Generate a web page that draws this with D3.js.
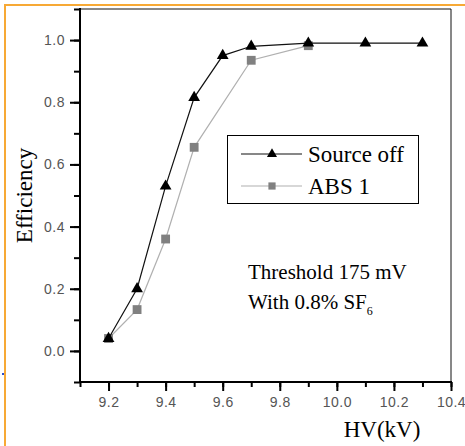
<!DOCTYPE html>
<html>
<head>
<meta charset="utf-8">
<script src="https://cdn.jsdelivr.net/npm/d3@7"></script>
<style>
  body { margin: 0; background: #fff; }
  svg { display: block; }
</style>
</head>
<body>
<div id="graph"></div>
<script>
// data
const hvSourceOff = [9.2, 9.3, 9.4, 9.5, 9.6, 9.7, 9.9, 10.1, 10.3];
const effSourceOff = [0.04, 0.2, 0.53, 0.815, 0.95, 0.98, 0.99, 0.99, 0.99];
const hvAbs1 = [9.2, 9.3, 9.4, 9.5, 9.7, 9.9];
const effAbs1 = [0.04, 0.133, 0.36, 0.655, 0.935, 0.982];
const xTicks = [9.2, 9.4, 9.6, 9.8, 10.0, 10.2, 10.4];
const yTicks = [0.0, 0.2, 0.4, 0.6, 0.8, 1.0];

const width = 465, height = 446;
const margin = { top: 9, left: 80, bottom: 64, right: 14 };
const serif = "'Liberation Serif', 'Times New Roman', serif";
const sans = "'Liberation Sans', Arial, sans-serif";

const svg = d3.select('#graph').append('svg')
  .attr('width', width)
  .attr('height', height);

// orange page border
svg.append('path')
  .attr('d', 'M5,' + height + 'V5H' + width)
  .attr('fill', 'none')
  .attr('stroke', '#f7a935')
  .attr('stroke-width', 2);
svg.append('rect')
  .attr('x', 2).attr('y', 373).attr('width', 2).attr('height', 2)
  .attr('fill', '#2a50d0');

const x = d3.scaleLinear().domain([9.1, 10.4]).range([margin.left, width - margin.right]);
const y = d3.scaleLinear().domain([-0.1, 1.1]).range([height - margin.bottom, margin.top]);

// frame top/right
svg.append('path')
  .attr('d', 'M' + x(9.1) + ',' + y(1.1) + 'H' + x(10.4) + 'V' + y(-0.1))
  .attr('fill', 'none')
  .attr('stroke', '#111')
  .attr('stroke-width', 1);

const minorX = d3.range(9.1, 10.41, 0.1).map(function(d) { return +d.toFixed(1); });
const minorY = d3.range(-0.1, 1.11, 0.1).map(function(d) { return +d.toFixed(1); });

const xAxis = svg.append('g')
  .attr('transform', 'translate(0,' + y(-0.1) + ')');
xAxis.append('g')
  .call(d3.axisBottom(x).tickValues(minorX).tickSize(5).tickFormat(''))
  .call(function(g) { g.select('.domain').remove(); });
xAxis.append('g')
  .call(d3.axisBottom(x).tickValues(xTicks).tickSize(9).tickPadding(6).tickFormat(d3.format('.1f')))
  .call(function(g) { g.select('.domain').remove(); });
xAxis.selectAll('.tick line').attr('stroke', '#000').attr('stroke-width', 2);
xAxis.append('line')
  .attr('x1', x(9.1) - 1).attr('x2', x(10.4) + 1)
  .attr('stroke', '#000').attr('stroke-width', 2);

const yAxis = svg.append('g')
  .attr('transform', 'translate(' + x(9.1) + ',0)');
yAxis.append('g')
  .call(d3.axisLeft(y).tickValues(minorY).tickSize(6).tickFormat(''))
  .call(function(g) { g.select('.domain').remove(); });
yAxis.append('g')
  .call(d3.axisLeft(y).tickValues(yTicks).tickSize(10).tickPadding(5).tickFormat(d3.format('.1f')))
  .call(function(g) { g.select('.domain').remove(); });
yAxis.selectAll('.tick line').attr('stroke', '#000').attr('stroke-width', 2);
yAxis.append('line')
  .attr('y1', y(1.1) - 1).attr('y2', y(-0.1) + 1)
  .attr('stroke', '#000').attr('stroke-width', 2);

svg.selectAll('.tick text')
  .attr('font-family', null)
  .style('font-family', sans)
  .attr('font-size', 14)
  .attr('letter-spacing', 0.5)
  .attr('fill', '#555');

// axis titles
svg.append('text')
  .style('font-family', serif)
  .attr('transform', 'translate(32,' + y(0.5) + ') rotate(-90)')
  .attr('text-anchor', 'middle')
  .attr('font-size', 23)
  .text('Efficiency');
svg.append('text')
  .style('font-family', serif)
  .attr('x', 382).attr('y', 437)
  .attr('text-anchor', 'middle')
  .attr('font-size', 23)
  .text('HV(kV)');

const series = [
  { name: 'Source off', hv: hvSourceOff, eff: effSourceOff, line: '#111', marker: 'tri', fill: '#000' },
  { name: 'ABS 1', hv: hvAbs1, eff: effAbs1, line: '#b0b0b0', marker: 'sq', fill: '#808080' }
];

const lineGen = d3.line()
  .x(function(d) { return x(d[0]); })
  .y(function(d) { return y(d[1]); });

const triangle = d3.symbol().type(d3.symbolTriangle);
const square = d3.symbol().type(d3.symbolSquare);

function markerPath(s, size) {
  return s.marker === 'tri' ? triangle.size(size)() : square.size(size)();
}

// draw ABS 1 first, source off on top
series.slice().reverse().forEach(function(s) {
  const pts = s.hv.map(function(v, i) { return [v, s.eff[i]]; });
  svg.append('path')
    .datum(pts)
    .attr('d', lineGen)
    .attr('fill', 'none')
    .attr('stroke', s.line)
    .attr('stroke-width', 1.2);
  svg.append('g').selectAll('path')
    .data(pts)
    .enter().append('path')
    .attr('transform', function(d) { return 'translate(' + x(d[0]) + ',' + y(d[1]) + ')'; })
    .attr('d', markerPath(s, s.marker === 'tri' ? 60 : 78))
    .attr('fill', s.fill);
});

// legend
const legend = svg.append('g');
legend.append('rect')
  .attr('x', 227.5).attr('y', 135.5).attr('width', 191).attr('height', 68)
  .attr('fill', '#fff').attr('stroke', '#000').attr('stroke-width', 1);
series.forEach(function(s, i) {
  const ly = 154 + i * 32;
  legend.append('line')
    .attr('x1', 241).attr('x2', 302).attr('y1', ly).attr('y2', ly)
    .attr('stroke', s.line).attr('stroke-width', 1.2);
  legend.append('path')
    .attr('transform', 'translate(272,' + ly + ')')
    .attr('d', markerPath(s, s.marker === 'tri' ? 44 : 52))
    .attr('fill', s.fill);
  legend.append('text')
    .style('font-family', serif)
    .attr('x', 308).attr('y', ly + 8)
    .attr('font-size', 23)
    .text(s.name);
});

// annotation
const note = svg.append('g')
  .style('font-family', serif)
  .attr('font-size', 21)
  .attr('fill', '#000');
note.append('text').attr('x', 248).attr('y', 279).text('Threshold 175 mV');
const t2 = note.append('text').attr('x', 248).attr('y', 309);
t2.append('tspan').text('With 0.8% SF');
t2.append('tspan').attr('font-size', 12).attr('dy', 6).text('6');
</script>
</body>
</html>
